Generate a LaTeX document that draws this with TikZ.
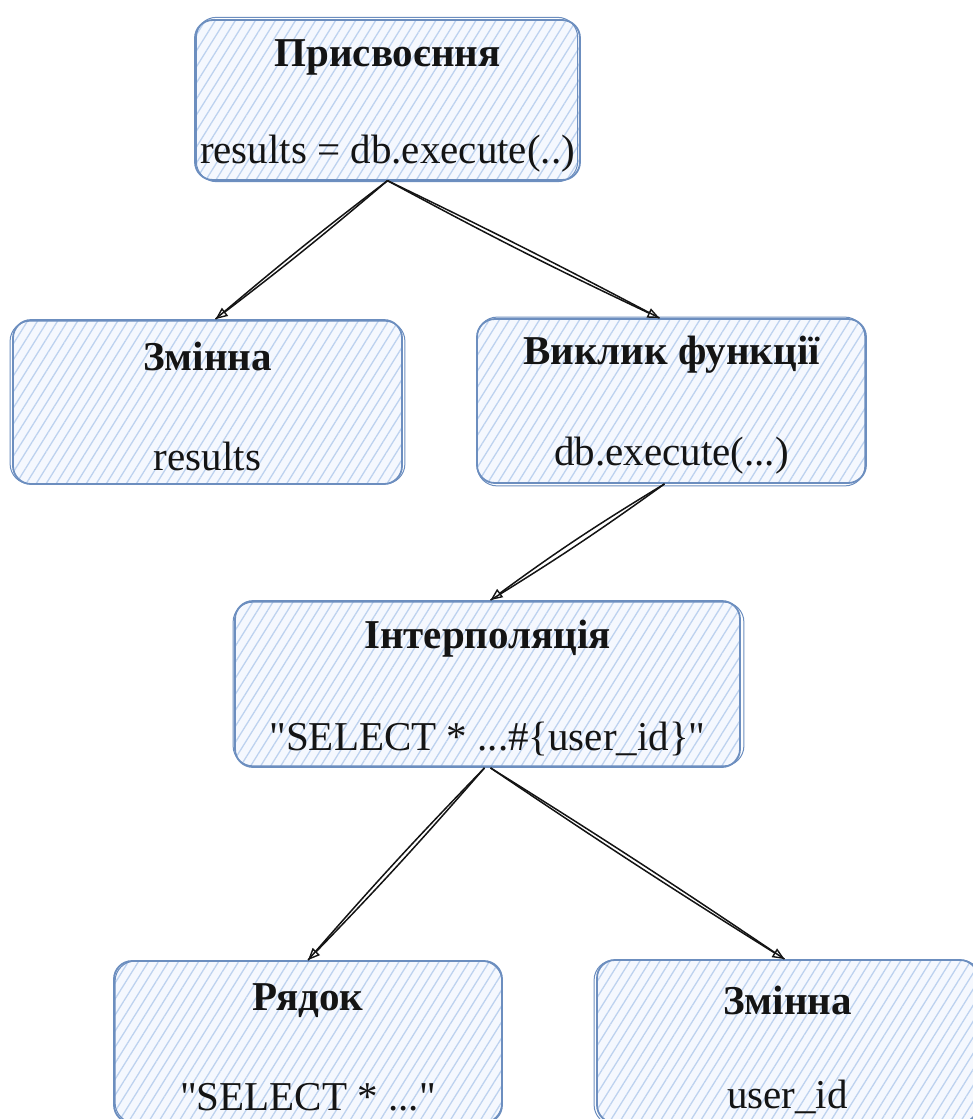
\documentclass[tikz,border=0pt]{standalone}
\usepackage{fontspec}
\setmainfont{Liberation Serif}[Ligatures=TeXOff]
\usetikzlibrary{arrows.meta,patterns.meta,calc}
\definecolor{strokeblue}{HTML}{6C8EBF}
\definecolor{hatchblue}{HTML}{BDD2EF}
\definecolor{tint}{HTML}{F5F8FE}
\definecolor{ink}{HTML}{141414}
\begin{document}
\begin{tikzpicture}[x=1pt,y=-1pt,
  box/.style={draw=strokeblue, line width=1.8pt, rounded corners=18pt,
    preaction={fill=tint},
    pattern={Lines[angle=58,distance=8.5pt,line width=1.3pt]},
    pattern color=hatchblue, inner sep=0pt},
  rough/.style={draw=strokeblue, line width=1pt, rounded corners=20pt},
  title/.style={font=\fontsize{41}{46}\selectfont\bfseries, text=ink, inner sep=0pt},
  body/.style={font=\fontsize{41}{46}\selectfont, text=ink, inner sep=0pt},
  edge/.style={draw=ink, line width=1.5pt},
  tip/.style={edge, -{Triangle[open,length=12pt,width=10pt,line width=1.4pt]}}
]
\path[use as bounding box] (0,0) rectangle (973,1119);
\clip (0,0) rectangle (973,1119);

% boxes
\node[box, minimum width=385pt, minimum height=160pt] (assign) at (387.5,100) {};
\node[box, minimum width=389pt, minimum height=164pt] (var1) at (207.5,402) {};
\node[box, minimum width=389pt, minimum height=164pt] (call) at (671.5,401) {};
\node[box, minimum width=505pt, minimum height=166pt] (interp) at (487.5,684) {};
\node[box, minimum width=388pt, minimum height=162pt] (str) at (308,1042) {};
\node[box, minimum width=381pt, minimum height=163pt] (var2) at (787.5,1041.5) {};

% second, slightly offset strokes for the hand-drawn look
\foreach \n/\a/\b/\c/\d in {assign/2/-2/-3/1, var1/-2/2/2/-1, call/1/-1/-2/2,
                            interp/-1/2/3/-2, str/2/1/-1/-1, var2/-2/1/2/1}{
  \draw[rough] ($(\n.north west)+(\a,\b)$) rectangle ($(\n.south east)+(\c,\d)$);
}

% texts
\node[title] (assignT) at ($(assign.north)+(0,38)$) {Присвоєння};
\node[body]  (assignB) at ($(assign.south)+(0,-27)$) {results = db.execute(..)};
\node[title] (var1T) at ($(var1.north)+(0,37)$) {Змінна};
\node[body]  (var1B) at ($(var1.south)+(0,-28)$) {results};
\node[title] (callT) at ($(call.north)+(0,37)$) {Виклик функції};
\node[body]  (callB) at ($(call.south)+(0,-28)$) {db.execute(...)};
\node[title] (interpT) at ($(interp.north)+(0,39)$) {Інтерполяція};
\node[body]  (interpB) at ($(interp.south)+(0,-29)$) {"SELECT * ...\#\{user\_id\}"};
\node[title] (strT) at ($(str.north)+(0,41)$) {Рядок};
\node[body]  (strB) at ($(str.south)+(0,-27)$) {"SELECT * ..."};
\node[title] (var2T) at ($(var2.north)+(0,41)$) {Змінна};
\node[body]  (var2B) at ($(var2.south)+(0,-27)$) {user\_id};

% connectors, each stroked twice
\draw[tip]  (assign.south) to[bend left=1.5] ($(var1.north)+(8,0)$);
\draw[edge] (assign.south) to[bend right=1.5] ($(var1.north)+(8,0)$);
\draw[tip]  (assign.south) to[bend right=1.5] ($(call.north)+(-12,0)$);
\draw[edge] (assign.south) to[bend left=1] ($(call.north)+(-12,0)$);
\draw[tip]  ($(call.south)+(-7,0)$) to[bend right=2.5] ($(interp.north)+(3,0)$);
\draw[edge] ($(call.south)+(-7,0)$) to[bend left=2] ($(interp.north)+(3,0)$);
\draw[tip]  ($(interp.south)+(-3,0)$) to[bend left=1.5] (str.north);
\draw[edge] ($(interp.south)+(-3,0)$) to[bend right=1.5] (str.north);
\draw[tip]  ($(interp.south)+(3,0)$) to[bend right=1] ($(var2.north)+(-3,0)$);
\draw[edge] ($(interp.south)+(3,0)$) to[bend left=1] ($(var2.north)+(-3,0)$);
\end{tikzpicture}
\end{document}
